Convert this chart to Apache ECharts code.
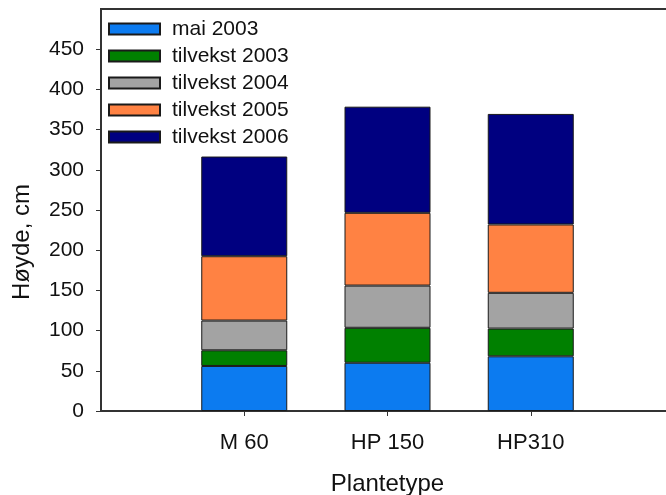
<!DOCTYPE html>
<html>
<head>
<meta charset="utf-8">
<script src="https://cdn.jsdelivr.net/npm/echarts@6/dist/echarts.min.js"></script>
<style>html,body{margin:0;padding:0;background:#fff;overflow:hidden;width:666px;height:495px}#c{width:690px;height:495px}</style>
</head>
<body>
<div id="c"></div>
<script>
const categories = ['M 60', 'HP 150', 'HP310'];
const mai2003 = [56, 60, 68];
const tilvekst2003 = [19.5, 43.5, 34.5];
const tilvekst2004 = [37, 52.5, 44.5];
const tilvekst2005 = [80, 90.5, 85];
const tilvekst2006 = [124, 132, 137.5];
const yTicks = [0, 50, 100, 150, 200, 250, 300, 350, 400, 450];

const seriesDefs = [
  { name: 'mai 2003', data: mai2003, color: '#0c7bf0' },
  { name: 'tilvekst 2003', data: tilvekst2003, color: '#008000' },
  { name: 'tilvekst 2004', data: tilvekst2004, color: '#a3a3a3' },
  { name: 'tilvekst 2005', data: tilvekst2005, color: '#ff8243' },
  { name: 'tilvekst 2006', data: tilvekst2006, color: '#000080' }
];

const font = 'Liberation Sans, Arial, sans-serif';
const axisCats = [''].concat(categories, ['']);

const chart = echarts.init(document.getElementById('c'), null, { renderer: 'canvas' });
chart.setOption({
  animation: false,
  backgroundColor: '#fff',
  grid: { left: 101, right: 16, top: 9, bottom: 84, outerBoundsMode: 'none', containLabel: false, show: true, borderColor: '#333', borderWidth: 2, backgroundColor: 'transparent' },
  legend: {
    left: 108, top: 18.5, orient: 'vertical', padding: 0,
    itemWidth: 51, itemHeight: 11, itemGap: 6, icon: 'rect',
    textStyle: { fontFamily: font, fontSize: 21, color: '#111', padding: [0, 0, 0, 7] },
    data: seriesDefs.map(s => s.name)
  },
  xAxis: {
    type: 'category', data: axisCats, boundaryGap: false,
    name: 'Plantetype', nameLocation: 'middle', nameGap: 61,
    nameTextStyle: { fontFamily: font, fontSize: 24, color: '#111' },
    axisLine: { lineStyle: { color: '#333', width: 2 } },
    axisTick: { length: 5, interval: (i) => i > 0 && i < axisCats.length - 1, lineStyle: { color: '#333', width: 1 } },
    axisLabel: { fontFamily: font, fontSize: 22, color: '#111', margin: 21, interval: 0 },
    splitLine: { show: false }
  },
  yAxis: {
    type: 'value', min: 0, max: 500, interval: 50,
    name: 'Høyde, cm', nameLocation: 'middle', nameGap: 67,
    nameTextStyle: { fontFamily: font, fontSize: 24, color: '#111', padding: [0, 64, 0, 0] },
    axisLine: { show: true, lineStyle: { color: '#333', width: 2 } },
    axisTick: { show: true, length: 5, customValues: yTicks, lineStyle: { color: '#333', width: 1 } },
    axisLabel: { fontFamily: font, fontSize: 21, color: '#111', margin: 17, customValues: yTicks },
    splitLine: { show: false }
  },
  series: seriesDefs.map(s => ({
    name: s.name, type: 'bar', stack: 'total', barWidth: 86,
    data: [null].concat(s.data, [null]),
    itemStyle: { color: s.color, borderColor: '#1a1a1a', borderWidth: 1 }
  }))
});
</script>
</body>
</html>
